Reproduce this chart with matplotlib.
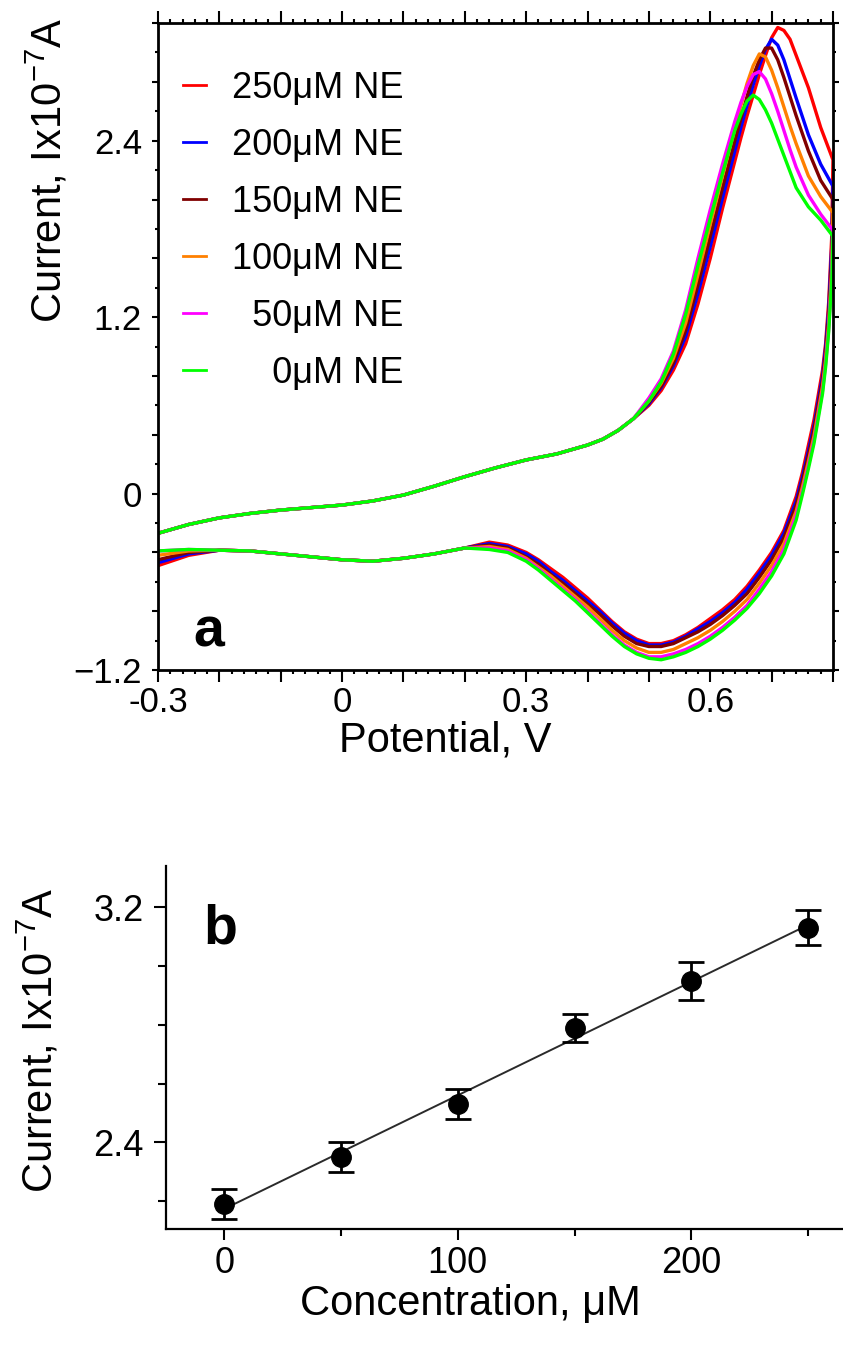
import numpy as np
import matplotlib
matplotlib.use("Agg")
import matplotlib.pyplot as plt
from matplotlib.ticker import MultipleLocator, FuncFormatter

plt.rcParams['font.family'] = ['Liberation Sans', 'DejaVu Sans']
plt.rcParams['mathtext.fontset'] = 'custom'
plt.rcParams['mathtext.rm'] = 'Liberation Sans'
plt.rcParams['mathtext.it'] = 'Liberation Sans:italic'
plt.rcParams['mathtext.default'] = 'regular'

# ---------------- Panel a data (cyclic voltammograms) ----------------
labels = ['250\u03bcM NE', '200\u03bcM NE', '150\u03bcM NE', '100\u03bcM NE',
          '\u200750\u03bcM NE', '\u2007\u20070\u03bcM NE']
colors = ['#ff0000', '#0000ff', '#800000', '#ff8000', '#ff00ff', '#00ff00']

# forward scan, common part
potential_fwd_common = [-0.30, -0.25, -0.20, -0.15, -0.10, -0.05, 0.00, 0.05,
                        0.10, 0.15, 0.20, 0.25, 0.30, 0.35, 0.40, 0.425, 0.45, 0.475]
current_fwd_common = [-0.27, -0.21, -0.165, -0.135, -0.112, -0.095, -0.078, -0.05,
                      -0.01, 0.05, 0.115, 0.175, 0.229, 0.27, 0.33, 0.37, 0.43, 0.51]

# forward scan, oxidation peak region
potential_fwd_peak = [0.50, 0.52, 0.54, 0.56, 0.58, 0.60, 0.62, 0.64, 0.65, 0.66,
                      0.67, 0.68, 0.69, 0.70, 0.71, 0.72, 0.73, 0.74, 0.76, 0.78, 0.80]
fwd_peak_250 = [0.60, 0.70, 0.84, 1.02, 1.29, 1.60, 1.94, 2.26, 2.42, 2.57,
                2.71, 2.85, 2.98, 3.10, 3.17, 3.15, 3.09, 2.98, 2.76, 2.49, 2.27]
fwd_peak_200 = [0.61, 0.72, 0.87, 1.07, 1.36, 1.68, 2.01, 2.33, 2.49, 2.64,
                2.78, 2.91, 3.02, 3.09, 3.05, 2.95, 2.82, 2.69, 2.44, 2.24, 2.09]
fwd_peak_150 = [0.62, 0.73, 0.89, 1.11, 1.42, 1.75, 2.08, 2.40, 2.55, 2.70,
                2.84, 2.95, 3.03, 3.03, 2.95, 2.83, 2.70, 2.57, 2.33, 2.13, 2.00]
fwd_peak_100 = [0.63, 0.75, 0.92, 1.16, 1.49, 1.83, 2.16, 2.48, 2.64, 2.79,
                2.91, 2.99, 2.97, 2.88, 2.76, 2.63, 2.50, 2.38, 2.16, 2.02, 1.91]
fwd_peak_50 = [0.65, 0.78, 0.97, 1.25, 1.60, 1.93, 2.24, 2.53, 2.66, 2.77,
               2.85, 2.87, 2.82, 2.72, 2.60, 2.47, 2.34, 2.22, 2.03, 1.90, 1.79]
fwd_peak_0 = [0.63, 0.76, 0.95, 1.22, 1.55, 1.87, 2.18, 2.47, 2.58, 2.67,
              2.71, 2.68, 2.61, 2.52, 2.41, 2.30, 2.19, 2.08, 1.95, 1.86, 1.75]

# reverse scan, reduction peak region
potential_rev_peak = [0.798, 0.793, 0.788, 0.783, 0.776, 0.769, 0.76, 0.75, 0.74,
                      0.72, 0.70, 0.68, 0.66, 0.64, 0.62, 0.60, 0.58, 0.56, 0.54,
                      0.52, 0.50, 0.48, 0.46, 0.44, 0.42, 0.40, 0.38, 0.36, 0.34,
                      0.32, 0.30, 0.27, 0.24]
rev_peak_250 = [1.75, 1.30, 1.02, 0.84, 0.67, 0.50, 0.33, 0.14, -0.02,
                -0.25, -0.40, -0.52, -0.63, -0.72, -0.79, -0.85, -0.91, -0.96, -1.00,
                -1.02, -1.02, -0.99, -0.94, -0.87, -0.79, -0.71, -0.64, -0.57, -0.51,
                -0.45, -0.40, -0.35, -0.33]
rev_peak_200 = [1.68, 1.25, 0.99, 0.80, 0.63, 0.46, 0.29, 0.11, -0.05,
                -0.27, -0.42, -0.54, -0.65, -0.74, -0.81, -0.87, -0.92, -0.97, -1.01,
                -1.03, -1.03, -1.00, -0.95, -0.88, -0.80, -0.73, -0.66, -0.59, -0.53,
                -0.46, -0.41, -0.36, -0.34]
rev_peak_150 = [1.60, 1.20, 0.95, 0.77, 0.60, 0.43, 0.26, 0.08, -0.08,
                -0.30, -0.45, -0.57, -0.68, -0.76, -0.83, -0.89, -0.94, -0.98, -1.02,
                -1.04, -1.04, -1.02, -0.97, -0.90, -0.82, -0.75, -0.68, -0.61, -0.55,
                -0.48, -0.43, -0.37, -0.35]
rev_peak_100 = [1.52, 1.15, 0.91, 0.73, 0.56, 0.39, 0.22, 0.04, -0.12,
                -0.34, -0.49, -0.61, -0.72, -0.80, -0.87, -0.93, -0.98, -1.02, -1.06,
                -1.08, -1.08, -1.05, -1.00, -0.93, -0.85, -0.77, -0.70, -0.63, -0.56,
                -0.50, -0.44, -0.38, -0.36]
rev_peak_50 = [1.48, 1.12, 0.88, 0.70, 0.53, 0.36, 0.19, 0.01, -0.15,
               -0.38, -0.53, -0.65, -0.76, -0.84, -0.91, -0.97, -1.02, -1.06, -1.09,
               -1.11, -1.11, -1.08, -1.03, -0.96, -0.88, -0.80, -0.72, -0.65, -0.58,
               -0.51, -0.45, -0.39, -0.37]
rev_peak_0 = [1.45, 1.10, 0.86, 0.68, 0.51, 0.34, 0.17, -0.01, -0.18,
              -0.41, -0.56, -0.68, -0.78, -0.86, -0.93, -0.99, -1.04, -1.08, -1.11,
              -1.13, -1.12, -1.09, -1.04, -0.97, -0.89, -0.81, -0.73, -0.66, -0.59,
              -0.52, -0.46, -0.40, -0.38]

# reverse scan, common part
potential_rev_common = [0.20, 0.15, 0.10, 0.05, 0.00, -0.05, -0.10, -0.15, -0.20]
current_rev_common = [-0.37, -0.41, -0.44, -0.46, -0.45, -0.43, -0.41, -0.39, -0.385]

# reverse scan, end
potential_rev_tail = [-0.25, -0.30]
rev_tail_250 = [-0.42, -0.49]
rev_tail_200 = [-0.41, -0.47]
rev_tail_150 = [-0.40, -0.45]
rev_tail_100 = [-0.39, -0.42]
rev_tail_50 = [-0.38, -0.39]
rev_tail_0 = [-0.38, -0.39]

fwd_peaks = [fwd_peak_250, fwd_peak_200, fwd_peak_150, fwd_peak_100, fwd_peak_50, fwd_peak_0]
rev_peaks = [rev_peak_250, rev_peak_200, rev_peak_150, rev_peak_100, rev_peak_50, rev_peak_0]
rev_tails = [rev_tail_250, rev_tail_200, rev_tail_150, rev_tail_100, rev_tail_50, rev_tail_0]

# ---------------- Panel b data (calibration) ----------------
concentration = [0, 50, 100, 150, 200, 250]
peak_current = [2.19, 2.35, 2.53, 2.79, 2.95, 3.13]
peak_error = [0.05, 0.05, 0.05, 0.048, 0.065, 0.059]

# ---------------- Figure ----------------
fig = plt.figure(figsize=(8.43, 13.49), dpi=100)
axa = fig.add_axes([0.1874, 0.5033, 0.8007, 0.4796])
axb = fig.add_axes([0.1969, 0.0889, 0.8031, 0.2691])

potential_all = (potential_fwd_common + potential_fwd_peak + potential_rev_peak
                 + potential_rev_common + potential_rev_tail)
for lab, col, fp, rp, rt in zip(labels, colors, fwd_peaks, rev_peaks, rev_tails):
    current_all = current_fwd_common + fp + rp + current_rev_common + rt
    axa.plot(potential_all, current_all, color=col, lw=2.4, label=lab,
             solid_joinstyle='round')

axa.set_xlim(-0.3, 0.8)
axa.set_ylim(-1.2, 3.2)
axa.xaxis.set_major_locator(MultipleLocator(0.1))
axa.xaxis.set_minor_locator(MultipleLocator(0.02))
axa.yaxis.set_major_locator(MultipleLocator(0.4))
axa.yaxis.set_minor_locator(MultipleLocator(0.2))


def fmt_x(v, pos):
    k = v / 0.3
    if abs(k - round(k)) < 1e-6:
        if abs(v) < 1e-9:
            return '0'
        return ('%.1f' % v)
    return ''


def fmt_y(v, pos):
    k = v / 1.2
    if abs(k - round(k)) < 1e-6:
        if abs(v) < 1e-9:
            return '0'
        return ('%.1f' % v).replace('-', '\u2212')
    return ''


axa.xaxis.set_major_formatter(FuncFormatter(fmt_x))
axa.yaxis.set_major_formatter(FuncFormatter(fmt_y))
axa.tick_params(axis='both', which='both', direction='out', top=True, right=True,
                width=1.5, labelsize=25)
axa.tick_params(axis='x', which='major', length=8.5, pad=3)
axa.tick_params(axis='x', which='minor', length=3)
axa.tick_params(axis='y', which='major', length=4.5, pad=7)
axa.tick_params(axis='y', which='minor', length=2.5)
for s in axa.spines.values():
    s.set_linewidth(2)

axa.set_xlabel('Potential, V', fontsize=30)
axa.xaxis.set_label_coords(0.425, -0.078)
axa.set_ylabel('Current, Ix10$^{-7}$A', fontsize=30, loc='top')
axa.yaxis.set_label_coords(-0.13, 1.008)

leg = axa.legend(loc='upper left', bbox_to_anchor=(0.037, 0.926), frameon=False,
                 fontsize=26, handlelength=0.63, handletextpad=0.72,
                 labelspacing=0.61, borderpad=0, borderaxespad=0)
for ln in leg.get_lines():
    ln.set_linewidth(2.0)

axa.text(0.052, 0.036, 'a', transform=axa.transAxes, fontsize=40,
         fontweight='bold', ha='left', va='baseline')

# ---------------- Panel b ----------------
slope, intercept = np.polyfit(concentration, peak_current, 1)
conc_arr = np.array([concentration[0], concentration[-1]], dtype=float)
axb.plot(conc_arr, slope * conc_arr + intercept, color='#2a2a2a', lw=1.4, zorder=2)
axb.errorbar(concentration, peak_current, yerr=peak_error, fmt='o', color='black',
             ms=14, capsize=9.5, elinewidth=2, capthick=2, zorder=3)

axb.set_xlim(-25, 265)
axb.set_ylim(2.105, 3.34)
axb.spines['top'].set_visible(False)
axb.spines['right'].set_visible(False)
for s in ('left', 'bottom'):
    axb.spines[s].set_linewidth(1.6)
axb.xaxis.set_major_locator(MultipleLocator(100))
axb.xaxis.set_minor_locator(MultipleLocator(50))
axb.yaxis.set_major_locator(MultipleLocator(0.8))
axb.yaxis.set_minor_locator(MultipleLocator(0.2))
axb.tick_params(axis='both', which='both', direction='out', width=1.5, labelsize=26)
axb.tick_params(axis='x', which='major', length=8, pad=4)
axb.tick_params(axis='x', which='minor', length=5)
axb.tick_params(axis='y', which='major', length=9, pad=7)
axb.tick_params(axis='y', which='minor', length=5.5)

axb.set_xlabel('Concentration, \u03bcM', fontsize=30)
axb.xaxis.set_label_coords(0.45, -0.15)
axb.set_ylabel('Current, Ix10$^{-7}$A', fontsize=30)
axb.yaxis.set_label_coords(-0.154, 0.52)

axb.text(0.055, 0.788, 'b', transform=axb.transAxes, fontsize=40,
         fontweight='bold', ha='left', va='baseline')

fig.savefig('out.png', dpi=100)
